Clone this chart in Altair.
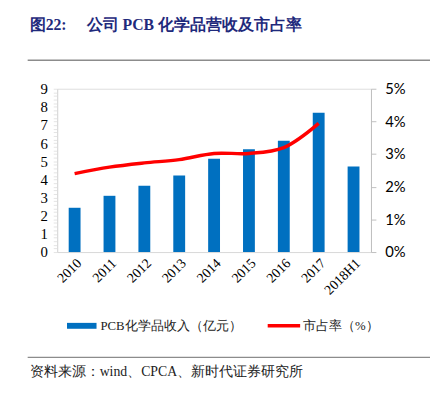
import altair as alt
import pandas as pd

years = ["2010", "2011", "2012", "2013", "2014", "2015", "2016", "2017", "2018H1"]
revenue = [2.44, 3.10, 3.66, 4.22, 5.14, 5.67, 6.14, 7.68, 4.71]
share_pct = [2.40, 2.60, 2.73, 2.83, 3.02, 3.02, 3.20, 3.94, None]

left_ticks = [round(i * 0.2, 1) for i in range(46)]
right_ticks = [0, 0.01, 0.02, 0.03, 0.04, 0.05]

title_num = "图22:"
title_text = "公司 PCB 化学品营收及市占率"
legend_bar = "PCB化学品收入（亿元）"
legend_line = "市占率（%）"
source_text = "资料来源：wind、CPCA、新时代证券研究所"

df = pd.DataFrame({"year": years, "revenue": revenue,
                   "share": [None if v is None else v / 100 for v in share_pct]})
line_df = df.dropna(subset=["share"])

xenc = alt.X("year:N", sort=years, title=None,
             scale=alt.Scale(paddingInner=0.66, paddingOuter=0.33),
             axis=alt.Axis(labelAngle=-45, labelFont="Liberation Serif", labelFontSize=14,
                           labelColor="#000000", ticks=False, domainColor="#D9D9D9",
                           labelPadding=4))

bars = alt.Chart(df).mark_bar(color="#0070C0").encode(
    x=xenc,
    y=alt.Y("revenue:Q", title=None,
            scale=alt.Scale(domain=[0, 9], nice=False),
            axis=alt.Axis(values=left_ticks, grid=False, labelOverlap=False,
                          labelExpr="datum.value % 1 == 0 ? format(datum.value, 'd') : ''",
                          labelFont="Liberation Serif", labelFontSize=15, labelColor="#000000",
                          tickColor="#E3E3E3", tickSize=4, domainColor="#D9D9D9",
                          labelPadding=6)),
)

line = alt.Chart(line_df).mark_line(color="#FF0000", strokeWidth=3.5,
                                    interpolate="catmull-rom").encode(
    x=alt.X("year:N", sort=years),
    y=alt.Y("share:Q", title=None,
            scale=alt.Scale(domain=[0, 0.05], nice=False),
            axis=alt.Axis(orient="right", values=right_ticks, format=".0%", grid=False,
                          labelFont="Lato", labelFontSize=15, labelColor="#000000",
                          tickColor="#BFBFBF", tickSize=5, domainColor="#BFBFBF",
                          labelPadding=9)),
)

one = pd.DataFrame({"a": [0]})

def txt(s, x, y, size, color="#000000", weight="normal", font="Liberation Serif"):
    return alt.Chart(one).mark_text(align="left", baseline="middle", fontSize=size,
                                    color=color, fontWeight=weight, font=font).encode(
        x=alt.value(x), y=alt.value(y), text=alt.value(s))

def hline(x1, x2, y, color, width):
    return alt.Chart(one).mark_rule(color=color, strokeWidth=width).encode(
        x=alt.value(x1), x2=alt.value(x2), y=alt.value(y))

title1 = txt(title_num, -28, -65, 16, "#1F2A7C", "bold")
title2 = txt(title_text, 30, -65, 16, "#1F2A7C", "bold")
top_rule = hline(-30, 385, -29, "#8C8C8C", 1.5)
bot_rule = hline(-30, 385, 273, "#8C8C8C", 1.2)
source = txt(source_text, -28, 288, 14, "#222222")

leg_rect = alt.Chart(one).mark_rect(color="#0070C0").encode(
    x=alt.value(10), x2=alt.value(40), y=alt.value(238), y2=alt.value(244))
leg_text1 = txt(legend_bar, 44, 241, 13, "#222222")
leg_line = hline(214, 247, 241, "#FF0000", 3.5)
leg_text2 = txt(legend_line, 250, 241, 13, "#222222")

main = alt.layer(bars, line).resolve_scale(y="independent")

chart = alt.layer(main, title1, title2, top_rule, bot_rule, source,
                  leg_rect, leg_text1, leg_line, leg_text2).properties(
    width=319, height=166,
    autosize=alt.AutoSizeParams(type="none"),
    padding={"left": 50, "top": 79, "right": 60, "bottom": 128},
).configure_view(stroke=None).configure(background="white")

chart.save("out.html", embed_options={"renderer": "svg", "actions": False})
